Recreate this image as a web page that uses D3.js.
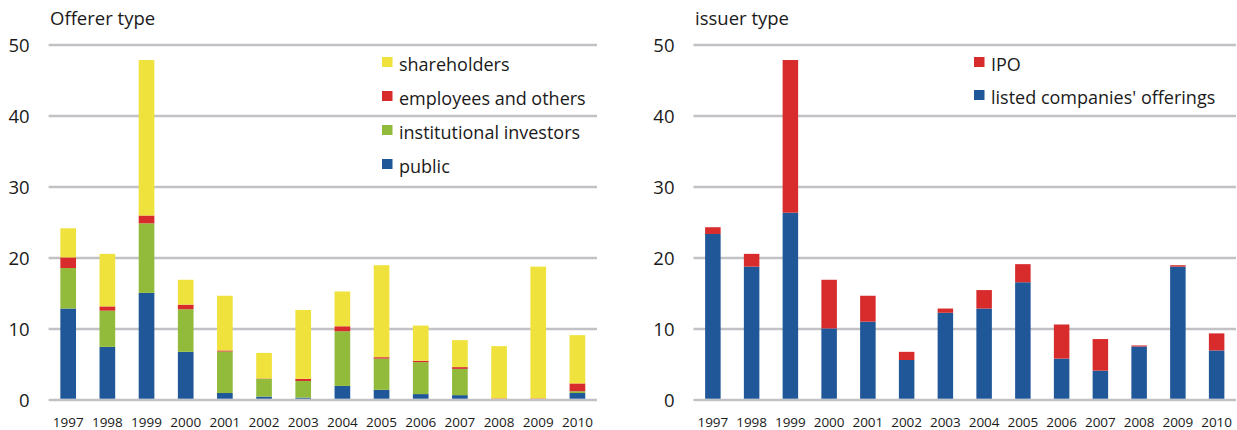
<!DOCTYPE html>
<html>
<head>
<meta charset="utf-8">
<script src="https://cdn.jsdelivr.net/npm/d3@7"></script>
<style>
  body { margin: 0; background: #fff; }
  text { font-family: "Open Sans", sans-serif; fill: #1a1a1a; }
</style>
</head>
<body>
<svg width="1237" height="430"></svg>
<script>
const years = ['1997','1998','1999','2000','2001','2002','2003','2004','2005','2006','2007','2008','2009','2010'];

// left chart: offerer type
const publicVals = [12.7, 7.3, 14.9, 6.6, 0.8, 0.3, 0.15, 1.8, 1.25, 0.65, 0.5, 0, 0, 0.8];
const institutional = [5.7, 5.1, 9.8, 6.0, 5.85, 2.5, 2.35, 7.7, 4.4, 4.5, 3.7, 0, 0, 0.25];
const employees = [1.5, 0.6, 1.1, 0.65, 0.15, 0.05, 0.3, 0.7, 0.2, 0.2, 0.25, 0.05, 0.05, 1.1];
const shareholders = [4.1, 7.4, 21.9, 3.5, 7.7, 3.6, 9.7, 4.9, 12.95, 4.95, 3.8, 7.35, 18.55, 6.8];

// right chart: issuer type
const listed = [23.2, 18.6, 26.2, 9.9, 10.85, 5.45, 12.1, 12.7, 16.4, 5.65, 3.95, 7.35, 18.6, 6.8];
const ipo = [0.95, 1.8, 21.5, 6.85, 3.65, 1.15, 0.6, 2.6, 2.55, 4.8, 4.45, 0.15, 0.2, 2.4];

const yTicks = [0, 10, 20, 30, 40, 50];

const svg = d3.select('svg');

const yellow = '#f0e23c', red = '#d72b2c', green = '#93bb3b', blue = '#1f5799';

function drawChart(opt) {
  const x = d3.scaleBand().domain(years).range([opt.left, opt.right]).paddingInner(0.6).paddingOuter(0.3);
  const y = d3.scaleLinear().domain([0, 50]).range([400, 45]);

  const g = svg.append('g');

  g.append('text')
    .attr('x', opt.titleX).attr('y', 25)
    .style('font-size', '18.5px')
    .text(opt.title);

  g.selectAll('.grid').data(yTicks).enter().append('line')
    .attr('x1', opt.left).attr('x2', opt.right)
    .attr('y1', d => y(d)).attr('y2', d => y(d))
    .attr('stroke', '#c2c2c6').attr('stroke-width', 2.6);

  g.selectAll('.ylab').data(yTicks).enter().append('text')
    .attr('x', opt.left - 19).attr('y', d => y(d) + 6.5)
    .attr('text-anchor', 'end')
    .style('font-size', '18.5px')
    .text(d => d);

  g.selectAll('.xlab').data(years).enter().append('text')
    .attr('x', d => x(d) + x.bandwidth() / 2).attr('y', 426.5)
    .attr('text-anchor', 'middle')
    .style('font-size', '13.5px')
    .text(d => d);

  const rows = years.map((yr, i) => {
    const r = { year: yr };
    opt.series.forEach(s => { r[s.name] = s.values[i]; });
    return r;
  });
  const stacked = d3.stack().keys(opt.series.map(s => s.name))(rows);

  stacked.forEach((layer, k) => {
    g.selectAll(null).data(layer).enter().append('rect')
      .attr('x', d => x(d.data.year))
      .attr('width', x.bandwidth())
      .attr('y', d => y(d[1]) - 1.3)
      .attr('height', d => Math.max(0, y(d[0]) - y(d[1])))
      .attr('fill', opt.series[k].color);
  });

  // legend, top item first
  const leg = opt.series.slice().reverse();
  leg.forEach((s, i) => {
    const cy = 62 + i * opt.legStep;
    g.append('rect')
      .attr('x', opt.legX).attr('y', cy - 5)
      .attr('width', 10.5).attr('height', 10)
      .attr('fill', s.color);
    g.append('text')
      .attr('x', opt.legX + 17).attr('y', cy + 9)
      .style('font-size', '18px')
      .text(s.name);
  });
}

drawChart({
  left: 48.6, right: 597, titleX: 50, title: 'Offerer type',
  legX: 382, legStep: 34,
  series: [
    { name: 'public', values: publicVals, color: blue },
    { name: 'institutional investors', values: institutional, color: green },
    { name: 'employees and others', values: employees, color: red },
    { name: 'shareholders', values: shareholders, color: yellow }
  ]
});

drawChart({
  left: 693.5, right: 1236, titleX: 695, title: 'issuer type',
  legX: 974, legStep: 33,
  series: [
    { name: "listed companies' offerings", values: listed, color: blue },
    { name: 'IPO', values: ipo, color: red }
  ]
});
</script>
</body>
</html>
